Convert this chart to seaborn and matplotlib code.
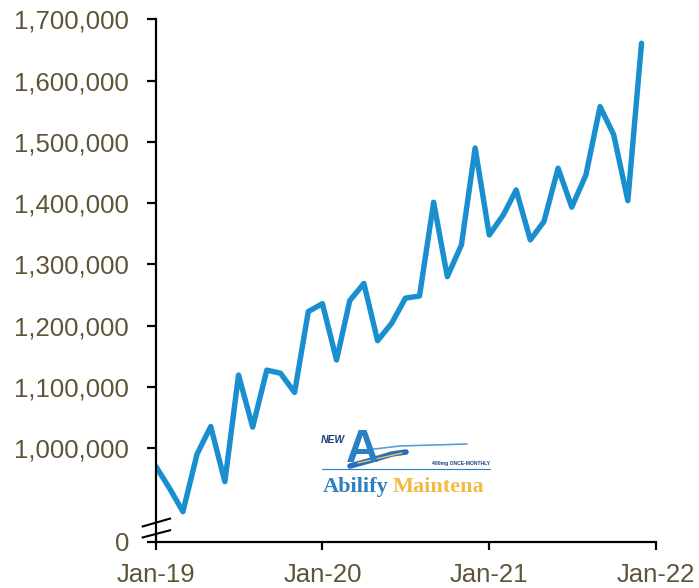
import matplotlib
matplotlib.use("Agg")
import matplotlib.pyplot as plt
import numpy as np
import pandas as pd
import seaborn as sns

# Monthly volume, Jan-2019 .. Dec-2021
months = pd.date_range("2019-01-01", "2021-12-01", freq="MS")
volume = [
    970000, 933000, 896500, 990500, 1035500, 945500,
    1119500, 1034500, 1127500, 1122500, 1091000, 1223000,
    1236000, 1144000, 1241000, 1269000, 1175500, 1204000,
    1245000, 1248500, 1401500, 1280000, 1332000, 1490000,
    1348000, 1381000, 1421500, 1340000, 1370000, 1457000,
    1393500, 1446000, 1557500, 1511500, 1404000, 1661000,
]

# Broken value axis: the lowest tick stands in for zero
y_floor = 847500
y_ticks = [847500, 1000000, 1100000, 1200000, 1300000, 1400000, 1500000, 1600000, 1700000]
y_labels = ["0", "1,000,000", "1,100,000", "1,200,000", "1,300,000",
            "1,400,000", "1,500,000", "1,600,000", "1,700,000"]
x_ticks = pd.to_datetime(["2019-01-01", "2020-01-01", "2021-01-01", "2022-01-01"])
x_labels = ["Jan-19", "Jan-20", "Jan-21", "Jan-22"]

sns.set_theme(style="white")
plt.rcParams["font.family"] = ["Liberation Sans", "DejaVu Sans"]

label_color = "#5e5538"
line_color = "#1a8fd0"

fig = plt.figure(figsize=(6.99, 5.88), dpi=100)
ax = fig.add_axes([0.2232, 0.0787, 0.938 - 0.2232, 0.9672 - 0.0787])

df = pd.DataFrame({"month": months, "volume": volume})
sns.lineplot(data=df, x="month", y="volume", ax=ax, color=line_color,
             linewidth=3.9, solid_joinstyle="round", solid_capstyle="round")

ax.set_xlim(x_ticks[0], x_ticks[-1])
ax.set_ylim(y_floor, 1700000)
ax.set_xticks(x_ticks)
ax.set_xticklabels(x_labels)
ax.set_yticks(y_ticks)
ax.set_yticklabels(y_labels)
ax.set_xlabel("")
ax.set_ylabel("")

for side in ("top", "right"):
    ax.spines[side].set_visible(False)
for side in ("left", "bottom"):
    ax.spines[side].set_color("black")
    ax.spines[side].set_linewidth(1.6)

ax.tick_params(axis="y", direction="out", length=6.5, width=1.6, color="black",
               pad=13, labelsize=18.5, labelcolor=label_color, left=True)
ax.tick_params(axis="x", direction="out", length=6, width=1.6, color="black",
               pad=9, labelsize=18.5, labelcolor=label_color, bottom=True)

# Axis-break marks across the value axis
for y0, y1 in [(0.0287, 0.0448), (0.0077, 0.0224)]:
    ax.plot([-0.0286, 0.0300], [y0, y1], transform=ax.transAxes, color="black",
            linewidth=1.5, clip_on=False, solid_capstyle="butt")

# Product logo
def px(x, y):
    return x / 699, 1 - y / 588

fig.text(*px(321, 440), "NEW", fontsize=7.5, fontweight="bold", style="italic",
         color="#1d3f7a", ha="left", va="center", family=["Liberation Sans"])
# thin arc, big letter, then the road swoosh across its foot
fig.add_artist(plt.Line2D(*zip(px(366, 450), px(400, 446), px(467, 444)),
                          color="#3b8fd6", linewidth=1.2, alpha=0.85))
fig.text(*px(362, 450), "A", fontsize=33, fontweight="bold",
         color="#2b7fc2", ha="center", va="center", family=["Liberation Sans"])
fig.add_artist(plt.Line2D(*zip(px(350, 466), px(372, 460), px(392, 454), px(406, 452)),
                          color="#2a6fb5", linewidth=4.0, solid_capstyle="round"))
fig.add_artist(plt.Line2D(*zip(px(358, 463), px(380, 458), px(402, 453)),
                          color="#f2c14e", linewidth=1.0))
fig.text(*px(490, 463), "400mg ONCE-MONTHLY", fontsize=3.6, fontweight="bold",
         color="#1d3f7a", ha="right", va="center")
fig.add_artist(plt.Line2D(*zip(px(322, 469), px(490, 469)),
                          color="#2b7fc2", linewidth=0.8))

word1 = fig.text(*px(323, 487), "Abilify", fontsize=16, fontweight="bold",
                 color="#2b7fc2", ha="left", va="center", family=["Liberation Serif"])
fig.canvas.draw()
bb = word1.get_window_extent(fig.canvas.get_renderer())
fig.text((bb.x1 + 4) / fig.bbox.width, 1 - 487 / 588, "Maintena", fontsize=16,
         fontweight="bold", color="#f5b942", ha="left", va="center",
         family=["Liberation Serif"])

fig.savefig("out.png", dpi=100)
